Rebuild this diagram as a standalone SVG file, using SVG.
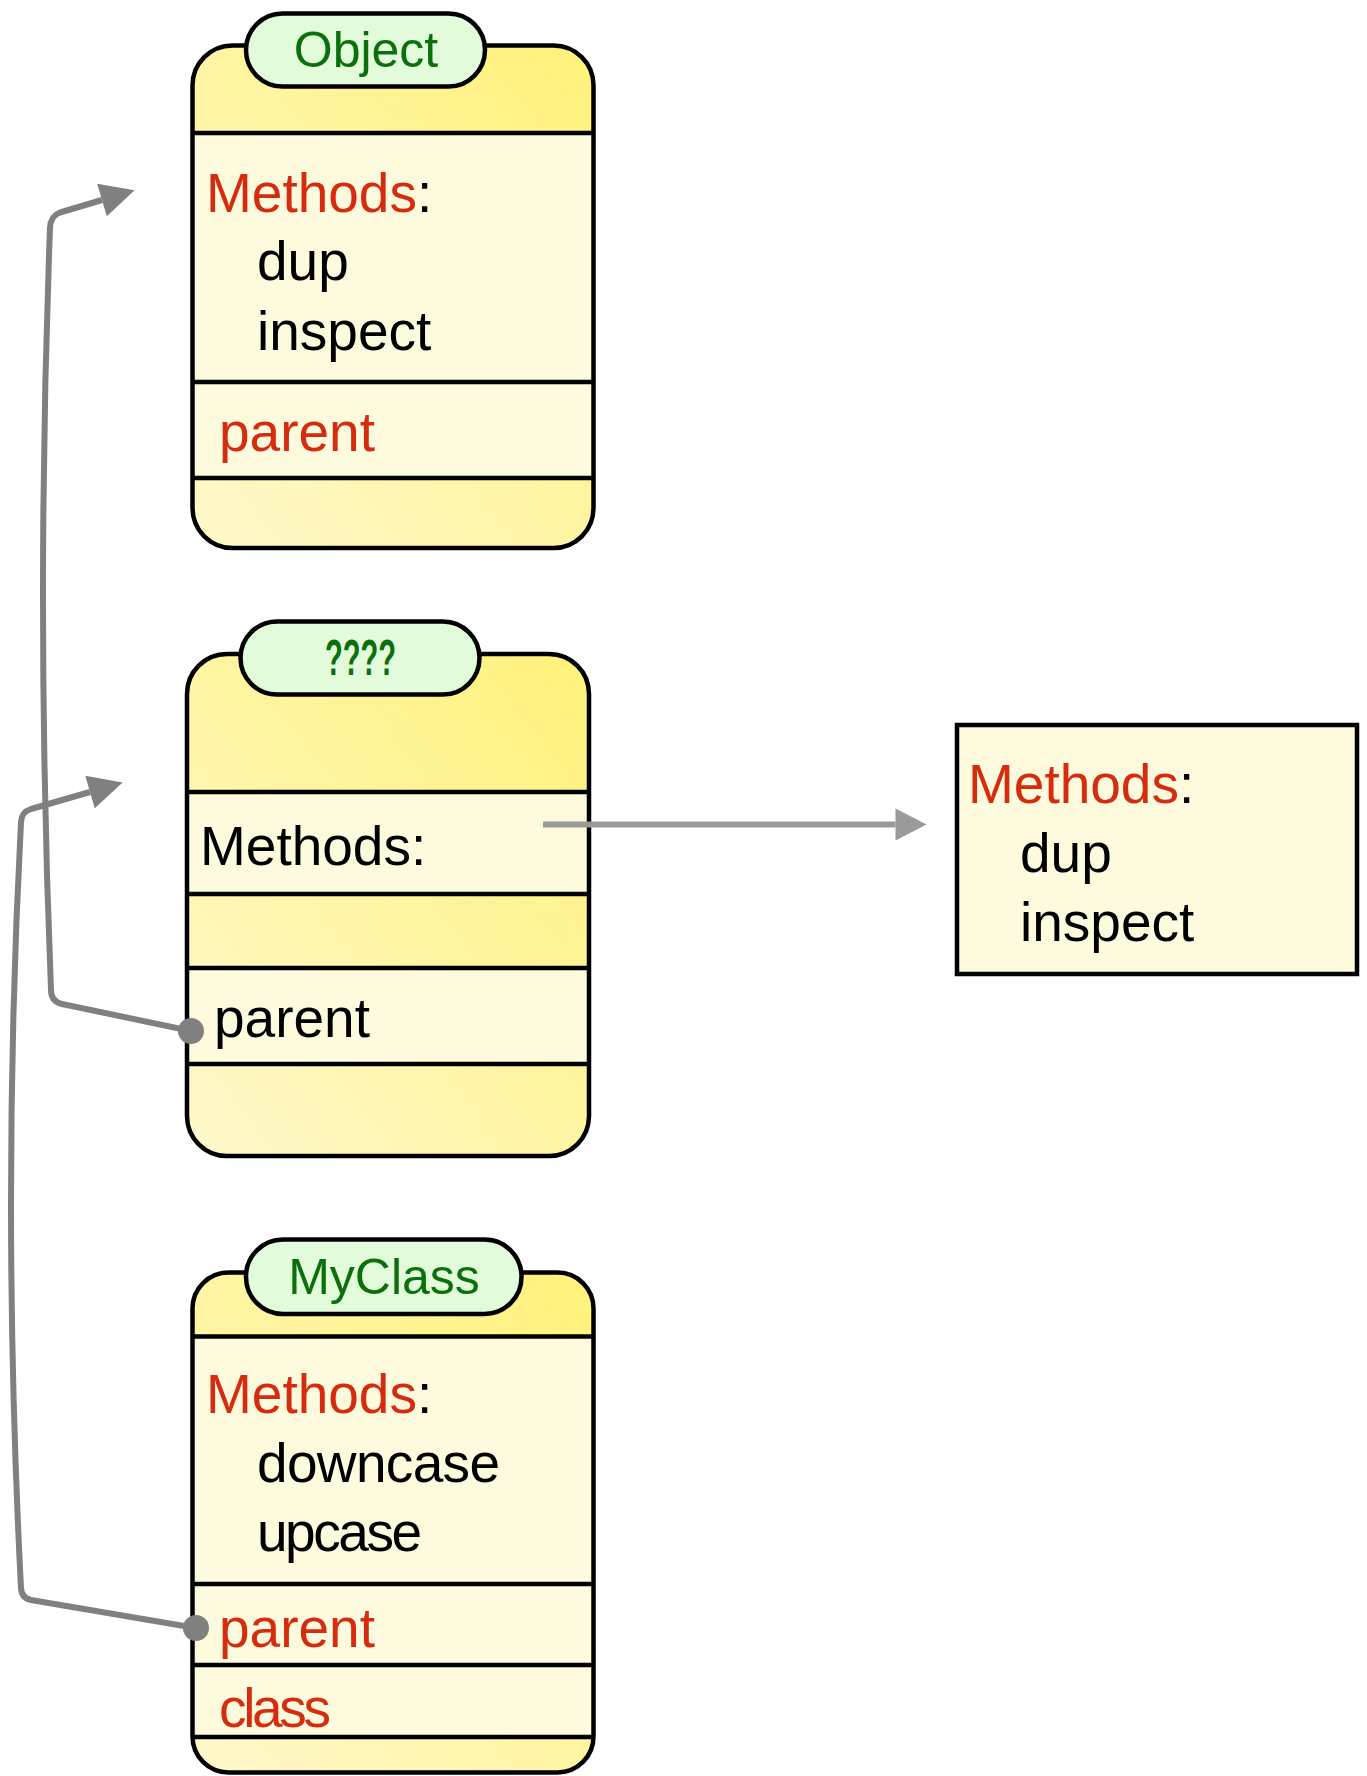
<svg xmlns="http://www.w3.org/2000/svg" width="1367" height="1776" viewBox="0 0 1367 1776">
  <style>
    .body { fill: url(#yellowGrad); stroke: none; }
    .frame { fill: none; stroke: #000; stroke-width: 4.5; }
    .cream { fill: #fefadd; stroke: none; }
    .sep { stroke: #000; stroke-width: 4.5; }
    .tab { fill: #e2fcdb; stroke: #000; stroke-width: 4.5; }
    .title { font-family: "Liberation Sans", Arial, sans-serif; font-size: 50px; fill: #0b6f0b; text-anchor: middle; }
    .txt { font-family: "Liberation Sans", Arial, sans-serif; font-size: 55px; fill: #000; }
    .red { fill: #d52b0e; }
    .wire { fill: none; stroke: #808080; stroke-width: 6; stroke-linejoin: round; }
    .wire2 { fill: none; stroke: #9a9a9a; stroke-width: 6; }
    .dot { fill: #808080; }
  </style>
  <defs>
    <linearGradient id="yellowGrad" x1="0" y1="1" x2="1" y2="0">
      <stop offset="0" stop-color="#fff8cc"/>
      <stop offset="1" stop-color="#fff27a"/>
    </linearGradient>
    <marker id="headGray" markerUnits="userSpaceOnUse" markerWidth="34" markerHeight="34" refX="0" refY="17" orient="auto" overflow="visible">
      <path d="M0,0 L34,17 L0,34 z" fill="#808080"/>
    </marker>
    <marker id="headLight" markerUnits="userSpaceOnUse" markerWidth="32" markerHeight="32" refX="0" refY="16" orient="auto" overflow="visible">
      <path d="M0,0 L31,16 L0,32 z" fill="#9a9a9a"/>
    </marker>
  </defs>

  <rect width="1367" height="1776" fill="#fff"/>

  <!-- class Object -->
  <g id="node-object">
    <rect class="body" x="192.5" y="45.5" width="401" height="502.5" rx="40"/>
    <rect class="cream" x="192.5" y="133" width="401" height="249"/>
    <rect class="cream" x="192.5" y="382" width="401" height="96"/>
    <line class="sep" x1="192.5" y1="133" x2="593.5" y2="133"/>
    <line class="sep" x1="192.5" y1="382" x2="593.5" y2="382"/>
    <line class="sep" x1="192.5" y1="478" x2="593.5" y2="478"/>
    <rect class="frame" x="192.5" y="45.5" width="401" height="502.5" rx="40"/>
    <rect class="tab" x="246" y="13.5" width="239" height="73" rx="36.5"/>
    <text class="title" x="366" y="67" font-size="53">Object</text>
    <text class="txt" x="206" y="212"><tspan class="red">Methods</tspan>:</text>
    <text class="txt" x="257" y="280">dup</text>
    <text class="txt" x="257" y="350">inspect</text>
    <text class="txt red" x="219" y="451">parent</text>
  </g>

  <!-- anonymous class ???? -->
  <g id="node-anon">
    <rect class="body" x="187" y="654" width="402" height="502" rx="40"/>
    <rect class="cream" x="187" y="792" width="402" height="102"/>
    <rect class="cream" x="187" y="968" width="402" height="96"/>
    <line class="sep" x1="187" y1="792" x2="589" y2="792"/>
    <line class="sep" x1="187" y1="894" x2="589" y2="894"/>
    <line class="sep" x1="187" y1="968" x2="589" y2="968"/>
    <line class="sep" x1="187" y1="1064" x2="589" y2="1064"/>
    <rect class="frame" x="187" y="654" width="402" height="502" rx="40"/>
    <rect class="tab" x="240.5" y="621.5" width="239" height="73" rx="36.5"/>
    <text class="title" x="360.5" y="675" font-size="48" font-weight="bold" textLength="71" lengthAdjust="spacingAndGlyphs">????</text>
    <text class="txt" x="200" y="865">Methods:</text>
    <text class="txt" x="214" y="1037">parent</text>
  </g>

  <!-- class MyClass -->
  <g id="node-myclass">
    <rect class="body" x="192.5" y="1272.5" width="401" height="500" rx="36"/>
    <rect class="cream" x="192.5" y="1336.5" width="401" height="247.5"/>
    <rect class="cream" x="192.5" y="1584" width="401" height="153"/>
    <line class="sep" x1="192.5" y1="1336.5" x2="593.5" y2="1336.5"/>
    <line class="sep" x1="192.5" y1="1584" x2="593.5" y2="1584"/>
    <line class="sep" x1="192.5" y1="1665" x2="593.5" y2="1665"/>
    <line class="sep" x1="192.5" y1="1737" x2="593.5" y2="1737"/>
    <rect class="frame" x="192.5" y="1272.5" width="401" height="500" rx="36"/>
    <rect class="tab" x="246" y="1239.5" width="275.5" height="74.5" rx="37"/>
    <text class="title" x="384" y="1294">MyClass</text>
    <text class="txt" x="206" y="1413"><tspan class="red">Methods</tspan>:</text>
    <text class="txt" x="257" y="1482" textLength="243" lengthAdjust="spacing">downcase</text>
    <text class="txt" x="257" y="1551" textLength="165" lengthAdjust="spacing">upcase</text>
    <text class="txt red" x="219" y="1647">parent</text>
    <text class="txt red" x="219" y="1727" textLength="112" lengthAdjust="spacing">class</text>
  </g>

  <!-- method table of the anonymous class -->
  <g id="node-methods">
    <rect x="957" y="725" width="400" height="249" fill="#fefadd" stroke="#000" stroke-width="4.5"/>
    <text class="txt" x="968" y="803"><tspan class="red">Methods</tspan>:</text>
    <text class="txt" x="1020" y="872">dup</text>
    <text class="txt" x="1020" y="941">inspect</text>
  </g>

  <!-- connectors -->
  <g id="connectors">
    <path class="wire" d="M191,1031 L62,1004 Q51,1001.5 51,990 Q35.5,609 50,228 Q50.5,216 60,212.5 L102,200" marker-end="url(#headGray)"/>
    <circle class="dot" cx="191" cy="1031" r="13"/>
    <path class="wire" d="M196,1628 L31,1600 Q21.5,1598 21,1588 Q1,1200 21,822 Q21.5,812 31,809 L90,792" marker-end="url(#headGray)"/>
    <circle class="dot" cx="196" cy="1628" r="13"/>
    <line class="wire2" x1="543" y1="824.5" x2="895.5" y2="824.5" marker-end="url(#headLight)"/>
  </g>
</svg>
